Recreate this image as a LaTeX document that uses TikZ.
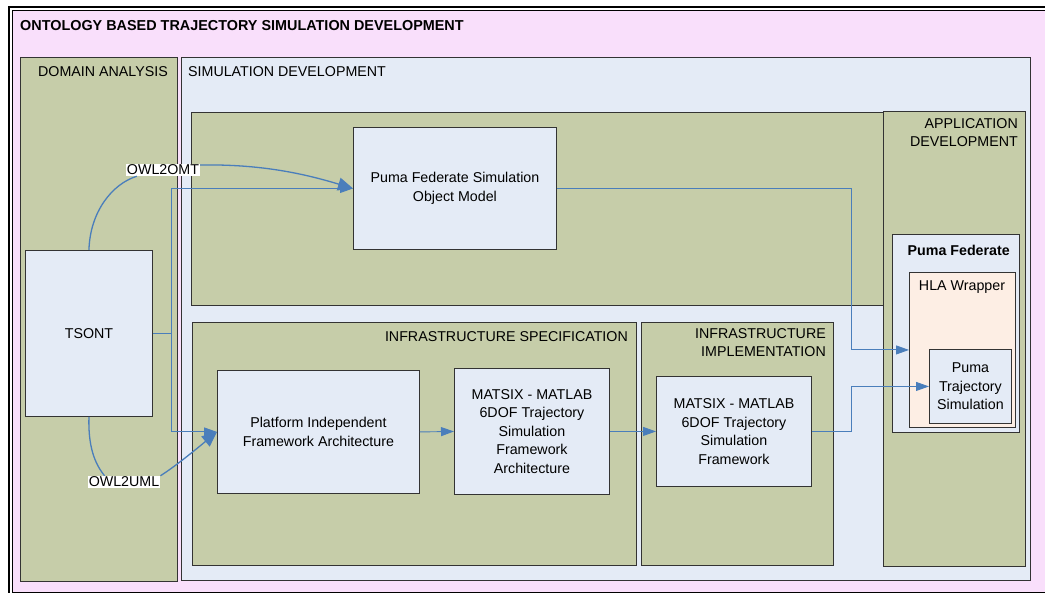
\documentclass[tikz,border=0pt]{standalone}
\usepackage{fontspec}
\setmainfont{Liberation Sans}
\usetikzlibrary{arrows.meta,calc}
\definecolor{pinkbg}{HTML}{F9DFFB}
\definecolor{olive}{HTML}{C6CDA9}
\definecolor{lblue}{HTML}{E4EBF6}
\definecolor{peach}{HTML}{FDEEE4}
\definecolor{arrowblue}{HTML}{4A7EBB}
\definecolor{edge}{HTML}{333333}
\tikzset{
  every node/.style={font=\fontsize{14.25}{18.5}\selectfont},
  region/.style={draw=edge, line width=0.9pt, anchor=north west, inner sep=0pt, rectangle},
  oliveregion/.style={region, fill=olive},
  blueregion/.style={region, fill=lblue},
  peachregion/.style={region, fill=peach},
  itembox/.style={region, fill=lblue, align=center},
  heading/.style={inner sep=0pt, align=right},
  tag/.style={fill=white, inner sep=1pt},
  curvearrow/.style={draw=arrowblue, line width=1.3pt, -{Triangle[length=15pt,width=13pt]}},
  curveline/.style={draw=arrowblue, line width=1.3pt},
  orth/.style={draw=arrowblue, line width=0.9pt, -{Triangle[length=13pt,width=9pt]}},
  orthline/.style={draw=arrowblue, line width=0.9pt},
}
\begin{document}
\begin{tikzpicture}[x=1pt,y=-1pt]
\useasboundingbox (0,0) rectangle (1045,593);
\clip (0,0) rectangle (1045,593);
\fill[white] (0,0) rectangle (1045,593);
% outer frame
\draw[black, line width=0.9pt, fill=pinkbg] (12,10) rectangle (1060,592);
\draw[black, line width=2.5pt] (9,600) -- (9,7) -- (1060,7);
\node[anchor=west, inner sep=0pt, font=\fontsize{14.4}{18}\selectfont\bfseries] (title) at (20,26) {ONTOLOGY BASED TRAJECTORY SIMULATION DEVELOPMENT};

% containers
\node[oliveregion, minimum width=157pt, minimum height=524pt] (da) at (20,57) {};
\node[heading, anchor=east] (dalbl) at (168,72) {DOMAIN ANALYSIS};
\node[blueregion, minimum width=849pt, minimum height=523pt] (sd) at (181,57) {};
\node[heading, anchor=west] (sdlbl) at (188,72) {SIMULATION DEVELOPMENT};
\node[oliveregion, minimum width=693pt, minimum height=193pt] (om) at (191,112) {};
\node[oliveregion, minimum width=444pt, minimum height=243pt] (is) at (192,322) {};
\node[heading, anchor=east] (islbl) at (628,337) {INFRASTRUCTURE SPECIFICATION};
\node[oliveregion, minimum width=192pt, minimum height=243pt] (ii) at (641,322) {};
\node[heading, anchor=north east] (iilbl) at (826,328) {INFRASTRUCTURE\\IMPLEMENTATION};
\node[oliveregion, minimum width=142pt, minimum height=455pt] (app) at (883,111) {};
\node[heading, anchor=north east] (applbl) at (1018,118) {APPLICATION\\DEVELOPMENT};
\node[blueregion, minimum width=127pt, minimum height=198pt] (pf) at (892,234) {};
\node[heading, anchor=east, font=\fontsize{14.25}{18}\selectfont\bfseries] (pflbl) at (1010,250) {Puma Federate};
\node[peachregion, minimum width=106pt, minimum height=155pt] (hla) at (909,272) {};
\node[heading, anchor=center] (hlalbl) at (962,287) {HLA Wrapper};

% item boxes
\node[itembox, minimum width=82pt, minimum height=74pt] (pts) at (929,349) {Puma\\Trajectory\\Simulation};
\node[itembox, minimum width=203pt, minimum height=122pt] (pfsom) at (353,127) {Puma Federate Simulation\\Object Model};
\node[itembox, minimum width=127pt, minimum height=166pt] (tsont) at (25,250) {TSONT};
\node[itembox, minimum width=202pt, minimum height=123pt] (pfa) at (217,370) {Platform Independent\\Framework Architecture};
\node[itembox, minimum width=155pt, minimum height=126pt] (ma) at (454,368) {MATSIX - MATLAB\\6DOF Trajectory\\Simulation\\Framework\\Architecture};
\node[itembox, minimum width=155pt, minimum height=110pt] (mf) at (656,376) {MATSIX - MATLAB\\6DOF Trajectory\\Simulation\\Framework};

% labels of the curved connectors
\node[tag] (owl2omt) at (163,170) {OWL2OMT};
\node[tag] (owl2uml) at (124,482) {OWL2UML};

% orthogonal connectors
\draw[orthline] (tsont.east) -- ++(19,0) coordinate (split);
\draw[orth] (split) |- (pfsom.west);
\draw[orth] (split) |- (pfa.west);
\draw[orth] (pfsom.east) -| ($(hla.west)+(-58,0)$) -- (hla.west);
\draw[orth] (pfa.east) -- (ma.west);
\draw[orth] (ma.east) -- (mf.west);
\draw[orth] (mf.east) -| ($(pts.west)+(-78,0)$) -- (pts.west);

% curved connectors
\draw[curveline] (tsont.north) .. controls (90,212) and (112,184) .. ([xshift=11pt]owl2omt.south west);
\draw[curvearrow] ([yshift=5pt]owl2omt.east) .. controls (262,164) and (305,174) .. (pfsom.west);
\draw[curveline] (tsont.south) .. controls (88,447) and (95,464) .. ([xshift=17pt]owl2uml.north west);
\draw[curvearrow] (owl2uml.north east) .. controls (176,466) and (200,446) .. (pfa.west);
\end{tikzpicture}
\end{document}
